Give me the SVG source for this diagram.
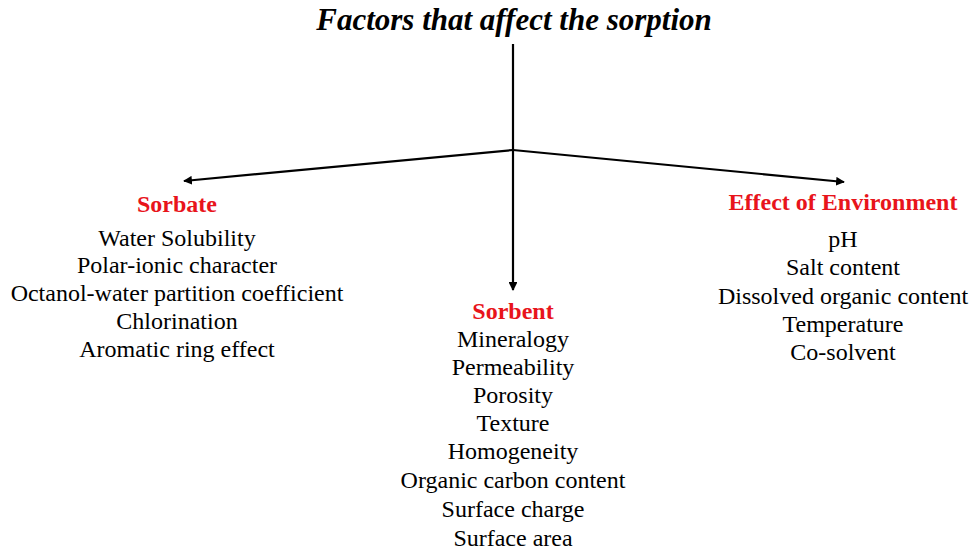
<svg xmlns="http://www.w3.org/2000/svg" width="970" height="550" viewBox="0 0 970 550">
<style>
.t{font-family:"Liberation Serif",serif;font-size:24px;fill:#000;text-anchor:middle}
.h{font-family:"Liberation Serif",serif;font-size:24px;font-weight:bold;fill:#e8141b;text-anchor:middle}
.c{stroke:#000;stroke-width:2.2;fill:none}
</style>
<defs>
<marker id="a" viewBox="0 0 10 10" refX="9" refY="5" markerWidth="4" markerHeight="4" orient="auto"><path d="M0,0L10,5L0,10z" fill="#000"/></marker>
</defs>
<rect width="970" height="550" fill="#fff"/>
<g id="title"><text x="514" y="30" style="font-family:'Liberation Serif',serif;font-size:31px;font-weight:bold;font-style:italic;text-anchor:middle">Factors that affect the sorption</text></g>
<g id="connectors">
<line class="c" x1="513" y1="44" x2="513" y2="290" marker-end="url(#a)"/>
<line class="c" x1="513" y1="150" x2="184" y2="181" marker-end="url(#a)"/>
<line class="c" x1="513" y1="150" x2="844" y2="182" marker-end="url(#a)"/>
</g>
<g id="sorbate">
<text class="h" x="177" y="212">Sorbate</text>
<text class="t" x="177" y="246">Water Solubility</text>
<text class="t" x="177" y="273">Polar-ionic character</text>
<text class="t" x="177" y="301">Octanol-water partition coefficient</text>
<text class="t" x="177" y="329">Chlorination</text>
<text class="t" x="177" y="357">Aromatic ring effect</text>
</g>
<g id="sorbent">
<text class="h" x="513" y="319">Sorbent</text>
<text class="t" x="513" y="347">Mineralogy</text>
<text class="t" x="513" y="375">Permeability</text>
<text class="t" x="513" y="403">Porosity</text>
<text class="t" x="513" y="431">Texture</text>
<text class="t" x="513" y="459">Homogeneity</text>
<text class="t" x="513" y="488">Organic carbon content</text>
<text class="t" x="513" y="517">Surface charge</text>
<text class="t" x="513" y="546">Surface area</text>
</g>
<g id="environment">
<text class="h" x="843" y="210">Effect of Environment</text>
<text class="t" x="843" y="247">pH</text>
<text class="t" x="843" y="275">Salt content</text>
<text class="t" x="843" y="304">Dissolved organic content</text>
<text class="t" x="843" y="332">Temperature</text>
<text class="t" x="843" y="360">Co-solvent</text>
</g>
</svg>
